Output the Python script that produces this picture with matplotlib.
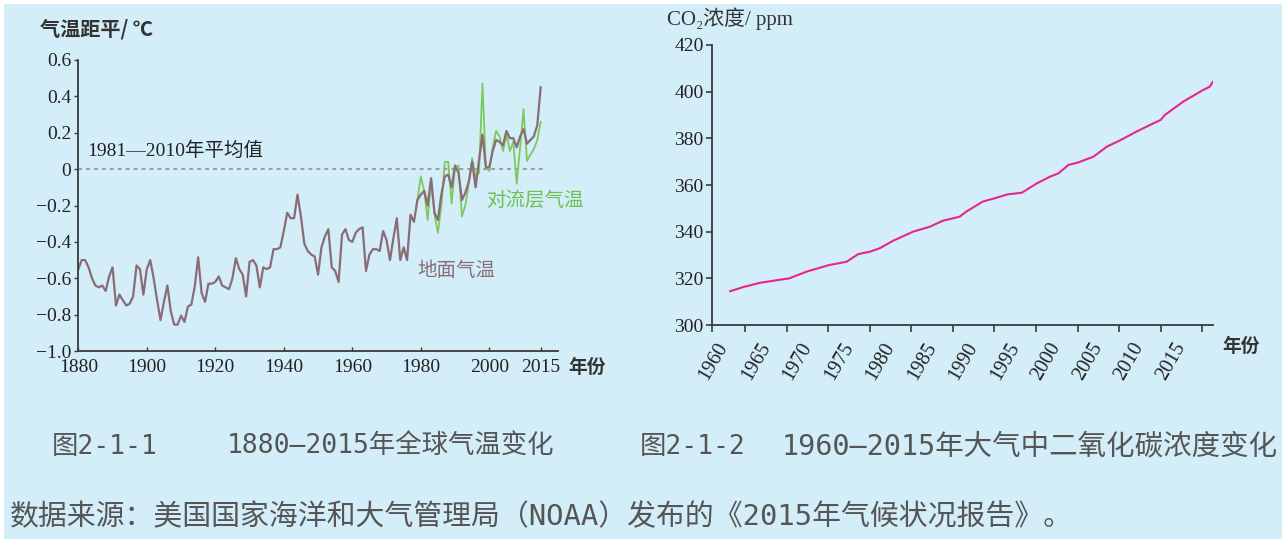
import numpy as np
import matplotlib
matplotlib.use("Agg")
import matplotlib.pyplot as plt
import matplotlib.transforms as mtransforms
from matplotlib.patches import Rectangle

# 全球气温距平（相对1981—2010年平均值），地面气温 1880—2015
temp_years = np.arange(1880, 2016)
temp_surface = [
    -0.55, -0.50, -0.50, -0.54, -0.60, -0.64, -0.65, -0.64, -0.67, -0.59,
    -0.54, -0.75, -0.69, -0.72, -0.75, -0.74, -0.70, -0.53, -0.55, -0.69,
    -0.55, -0.50, -0.60, -0.72, -0.83, -0.73, -0.64, -0.78, -0.855, -0.855,
    -0.805, -0.84, -0.755, -0.745, -0.645, -0.485, -0.68, -0.73, -0.63, -0.63,
    -0.62, -0.59, -0.64, -0.65, -0.66, -0.60, -0.49, -0.55, -0.58, -0.70,
    -0.51, -0.50, -0.53, -0.65, -0.54, -0.55, -0.54, -0.44, -0.44, -0.43,
    -0.34, -0.24, -0.27, -0.27, -0.14, -0.26, -0.41, -0.45, -0.47, -0.48,
    -0.58, -0.43, -0.37, -0.33, -0.54, -0.56, -0.62, -0.36, -0.33, -0.39,
    -0.40, -0.35, -0.33, -0.32, -0.56, -0.47, -0.44, -0.44, -0.45, -0.34,
    -0.39, -0.50, -0.38, -0.27, -0.50, -0.43, -0.50, -0.25, -0.29, -0.17,
    -0.14, -0.12, -0.20, -0.05, -0.24, -0.28, -0.14, -0.04, -0.03, -0.10,
    0.02, -0.02, -0.17, -0.13, -0.07, 0.04, -0.10, 0.05, 0.19, 0.01,
    0.01, 0.10, 0.16, 0.15, 0.13, 0.21, 0.17, 0.17, 0.12, 0.18,
    0.22, 0.14, 0.16, 0.18, 0.24, 0.45,
]

# 对流层气温 1979—2015
tropo_years = np.arange(1979, 2016)
temp_tropo = [
    -0.17, -0.04, -0.12, -0.28, -0.06, -0.25, -0.35, -0.20, 0.04, 0.04,
    -0.19, 0.01, 0.02, -0.26, -0.20, -0.08, 0.06, -0.04, -0.02, 0.47,
    0.01, -0.01, 0.12, 0.21, 0.18, 0.10, 0.19, 0.10, 0.15, -0.08,
    0.12, 0.33, 0.045, 0.08, 0.11, 0.16, 0.26,
]

temp_xticks = [1880, 1900, 1920, 1940, 1960, 1980, 2000, 2015]
temp_yticks = [-1.0, -0.8, -0.6, -0.4, -0.2, 0, 0.2, 0.4, 0.6]
temp_ylabels = ["\u22121.0", "\u22120.8", "\u22120.6", "\u22120.4", "\u22120.2", "0", "0.2", "0.4", "0.6"]

# 大气CO2浓度（按图中横轴刻度读取的位置）
co2_year = [1963.2, 1964.9, 1966.8, 1970.3, 1972.4, 1975.1, 1977.2, 1978.6, 1980.0, 1981.2,
            1982.8, 1985.2, 1987.2, 1988.8, 1990.8, 1991.6, 1993.6, 1995.0, 1996.6, 1998.3,
            2000.1, 2001.7, 2002.7, 2003.9, 2005.1, 2006.9, 2008.5, 2010.2, 2012.1, 2013.7,
            2015.0, 2015.5, 2017.7, 2020.1, 2020.9, 2021.3]
co2_ppm = [314.5, 316.4, 318.1, 320.0, 322.9, 325.7, 327.1, 330.4, 331.4, 332.9,
           336.1, 340.0, 342.1, 344.7, 346.4, 348.6, 352.9, 354.3, 356.0, 356.7,
           360.7, 363.6, 365.0, 368.6, 369.7, 372.1, 376.4, 379.3, 382.9, 385.7,
           387.9, 390.0, 395.7, 400.7, 402.1, 404.3]
co2_tick_pos = [1961.0, 1965, 1970, 1975, 1980, 1985, 1990, 1995, 2000, 2005, 2010, 2015, 2020]
co2_tick_labels = ["1960", "1965", "1970", "1975", "1980", "1985", "1990", "1995",
                   "2000", "2005", "2010", "2015", ""]
co2_yticks = [300, 320, 340, 360, 380, 400, 420]

BG = "#d3eef9"
SERIF = ["Liberation Serif", "Noto Sans CJK SC", "DejaVu Serif"]
CJK = ["Noto Sans CJK SC", "DejaVu Sans"]
MONO = ["DejaVu Sans Mono", "Noto Sans CJK SC"]
AXC = "#3a3a3a"

fig = plt.figure(figsize=(12.82, 5.39), dpi=100)
fig.patch.set_facecolor("white")
fig.add_artist(Rectangle((4 / 1282, 0), 1, 1 - 4 / 539, transform=fig.transFigure,
                         facecolor=BG, edgecolor="none", zorder=-10))


def style_axes(ax):
    ax.set_facecolor("none")
    for s in ("top", "right"):
        ax.spines[s].set_visible(False)
    for s in ("left", "bottom"):
        ax.spines[s].set_color(AXC)
        ax.spines[s].set_linewidth(1.3)


# ---- 左图：气温 ----
ax1 = fig.add_axes([78.3 / 1282, 1 - 351 / 539, (557.8 - 78.3) / 1282, (351 - 60) / 539])
style_axes(ax1)
ax1.plot([1880, 2016], [0, 0], color="#8c9aa3", lw=1.3, linestyle=(0, (2.2, 2.2)))
ax1.plot(tropo_years, temp_tropo, color="#7dc95e", lw=1.3)
ax1.plot(temp_years, temp_surface, color="#8a6c75", lw=1.6)
ax1.set_xlim(1880, 2020)
ax1.set_ylim(-1.0, 0.6)
ax1.set_xticks(temp_xticks)
ax1.set_xticklabels([str(y) for y in temp_xticks], family=SERIF, fontsize=14, color="#222")
ax1.set_yticks(temp_yticks)
ax1.set_yticklabels(temp_ylabels, family=SERIF, fontsize=14, color="#222")
ax1.tick_params(axis="x", direction="in", length=3, width=1, color=AXC, pad=6)
ax1.tick_params(axis="y", direction="out", length=3, width=1, color=AXC, pad=2)

fig.text(40 / 1282, 1 - 29 / 539, "气温距平/ ℃", family=CJK, fontsize=14.5,
         color="#333", va="center", ha="left", fontweight="bold")
ax1.text(1882.5, 0.1, "1981—2010年平均值", family=SERIF, fontsize=14, color="#222",
         va="center", ha="left")
ax1.text(1979, -0.56, "地面气温", family=CJK, fontsize=14, color="#8a6c75", va="center", ha="left")
ax1.text(1999, -0.17, "对流层气温", family=CJK, fontsize=14, color="#6cc050", va="center", ha="left")
fig.text(568 / 1282, 1 - 367 / 539, "年份", family=CJK, fontsize=13.5, color="#333",
         va="center", ha="left", fontweight="bold")

# ---- 右图：CO2 ----
ax2 = fig.add_axes([712 / 1282, 1 - 325 / 539, (1213 - 712) / 1282, (325 - 45) / 539])
style_axes(ax2)
ax2.plot(co2_year, co2_ppm, color="#e8258f", lw=1.5)
ax2.set_xlim(1961.0, 2021.3)
ax2.set_ylim(300, 420)
ax2.set_yticks(co2_yticks)
ax2.set_yticklabels([str(v) for v in co2_yticks], family=SERIF, fontsize=14, color="#222")
ax2.set_xticks(co2_tick_pos)
ax2.tick_params(axis="x", direction="out", length=5, width=1.2, color=AXC)
ax2.tick_params(axis="y", direction="out", length=4, width=1.2, color=AXC, pad=2)
ax2.set_xticklabels(co2_tick_labels, family=SERIF, fontsize=14.5, color="#222",
                    rotation=60, ha="right", va="top", rotation_mode="anchor")
# 倾斜的年份标签整体略向右偏
for i, lab in enumerate(ax2.get_xticklabels()):
    dx = 2 if i == 0 else 9
    lab.set_transform(lab.get_transform()
                      + mtransforms.ScaledTranslation(dx / 72, -2 / 72, fig.dpi_scale_trans))

fig.text(667 / 1282, 1 - 19 / 539, "CO\u2082浓度/ ppm", family=SERIF, fontsize=15,
         color="#333", va="center", ha="left")
fig.text(1222 / 1282, 1 - 346 / 539, "年份", family=CJK, fontsize=13.5, color="#333",
         va="center", ha="left", fontweight="bold")

# ---- 图题与数据来源 ----
fig.text(52 / 1282, 1 - 447 / 539, "图2-1-1", family=MONO, fontsize=19, color="#555",
         va="center", ha="left")
fig.text(227 / 1282, 1 - 447 / 539, "1880—2015年全球气温变化", family=MONO, fontsize=19,
         color="#555", va="center", ha="left")
fig.text(640 / 1282, 1 - 447 / 539, "图2-1-2", family=MONO, fontsize=19, color="#555",
         va="center", ha="left")
fig.text(782 / 1282, 1 - 447 / 539, "1960—2015年大气中二氧化碳浓度变化", family=MONO, fontsize=20.5,
         color="#555", va="center", ha="left")
fig.text(10 / 1282, 1 - 517 / 539, "数据来源：美国国家海洋和大气管理局（NOAA）发布的《2015年气候状况报告》。",
         family=MONO, fontsize=20.8, color="#555", va="center", ha="left")

fig.savefig("out.png", dpi=100, facecolor=fig.get_facecolor())
